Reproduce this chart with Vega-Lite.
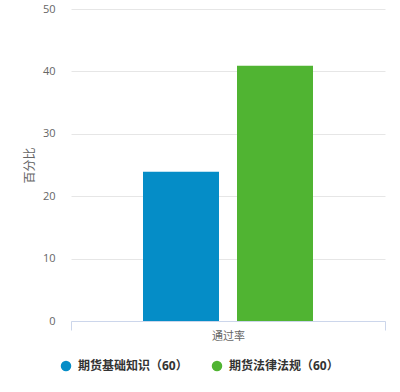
{
  "$schema": "https://vega.github.io/schema/vega-lite/v6.json",
  "width": 314,
  "height": 312,
  "autosize": {"type": "none"},
  "padding": {"left": 71, "top": 9, "right": 15, "bottom": 71},
  "background": "white",
  "data": {
    "values": [
      {"cat": "通过率", "series": "期货基础知识（60）", "value": 23.9},
      {"cat": "通过率", "series": "期货法律法规（60）", "value": 40.9}
    ]
  },
  "mark": {"type": "bar"},
  "encoding": {
    "x": {
      "field": "cat",
      "type": "nominal",
      "scale": {"paddingInner": 0, "paddingOuter": 0},
      "axis": {
        "title": null,
        "labelAngle": 0,
        "domainColor": "#ccd6eb",
        "tickColor": "#ccd6eb",
        "tickBand": "extent",
        "tickSize": 9,
        "labelPadding": 0,
        "labelColor": "#666666",
        "labelFontSize": 11,
        "labelFont": "'Open Sans', 'Noto Sans CJK SC', sans-serif"
      }
    },
    "xOffset": {
      "field": "series",
      "type": "nominal",
      "scale": {"paddingInner": 0.1915, "paddingOuter": 0.766}
    },
    "y": {
      "field": "value",
      "type": "quantitative",
      "scale": {"domain": [0, 50]},
      "axis": {
        "title": "百分比",
        "values": [0, 10, 20, 30, 40, 50],
        "domain": false,
        "ticks": false,
        "gridColor": "#e6e6e6",
        "labelColor": "#666666",
        "labelFontSize": 11,
        "labelPadding": 16,
        "labelFont": "'Open Sans', 'Noto Sans CJK SC', sans-serif",
        "titleColor": "#666666",
        "titleFontSize": 12,
        "titleFontWeight": "normal",
        "titleFont": "'Noto Sans CJK SC', sans-serif",
        "titlePadding": 6
      }
    },
    "color": {
      "field": "series",
      "type": "nominal",
      "scale": {"range": ["#058DC7", "#50B432"]},
      "legend": {
        "title": null,
        "orient": "none",
        "direction": "horizontal",
        "legendX": -11,
        "legendY": 351,
        "symbolType": "circle",
        "symbolSize": 110,
        "symbolStrokeWidth": 0,
        "symbolOpacity": 1,
        "labelOffset": 6,
        "columnPadding": 23,
        "labelFontSize": 12,
        "labelFontWeight": "bold",
        "labelColor": "#333333",
        "labelFont": "'Open Sans', 'Noto Sans CJK SC', sans-serif",
        "labelLimit": 300
      }
    }
  },
  "config": {"view": {"stroke": null}}
}
